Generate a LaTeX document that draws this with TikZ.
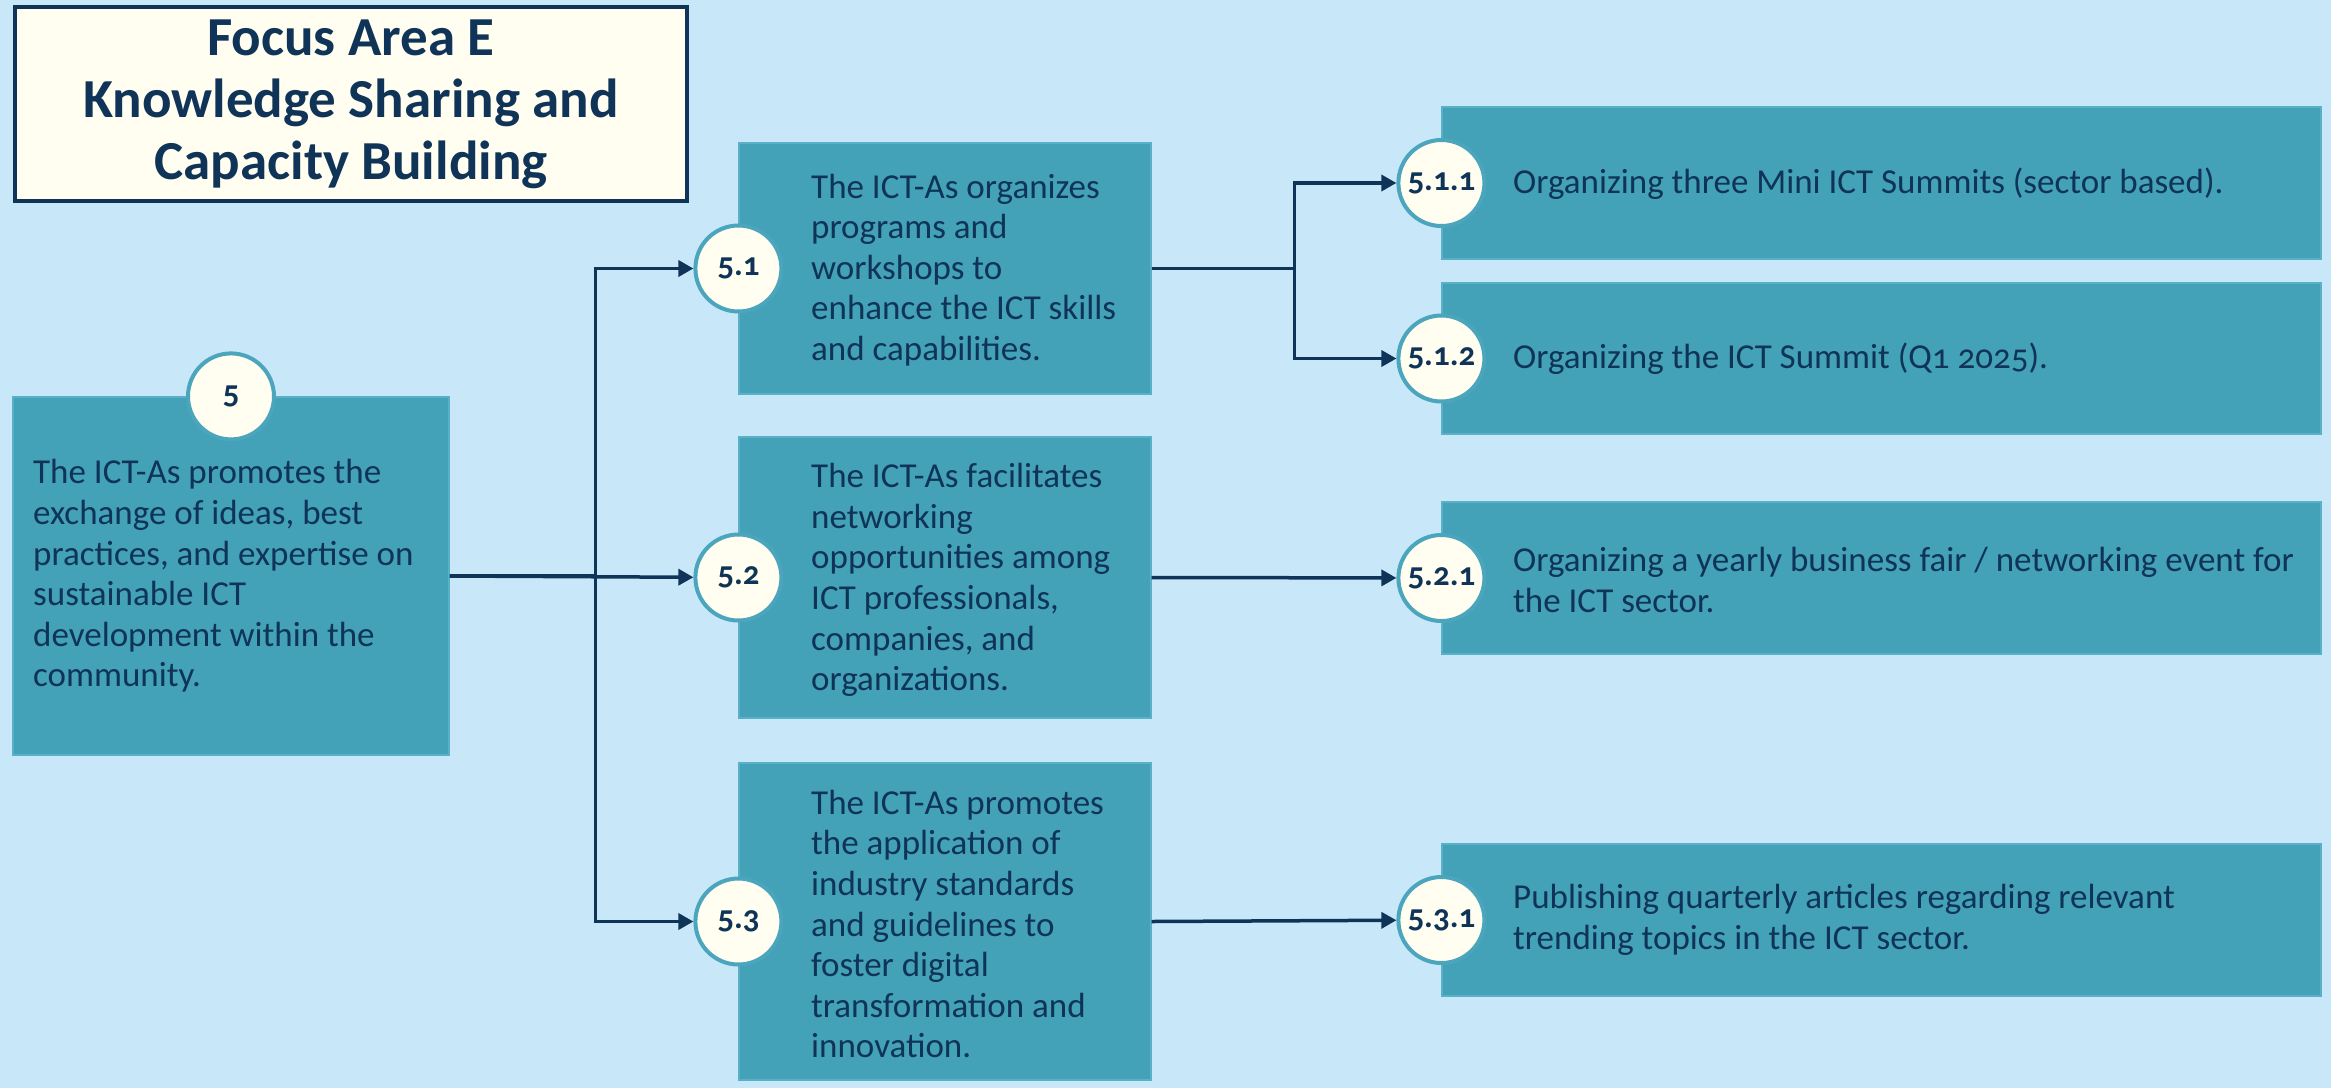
\documentclass[tikz,border=0pt]{standalone}
\usepackage{fontspec}
\setmainfont[Numbers=OldStyle]{Carlito}
\usetikzlibrary{arrows.meta}
\definecolor{bgblue}{HTML}{C8E8FA}
\definecolor{boxteal}{HTML}{43A1B8}
\definecolor{boxedge}{HTML}{5AB0C6}
\definecolor{circedge}{HTML}{4AA5BD}
\definecolor{navy}{HTML}{0F3457}
\definecolor{cream}{HTML}{FFFEF0}
\begin{document}
\begin{tikzpicture}[x=1pt,y=-1pt,
  box/.style={fill=boxteal, draw=boxedge, line width=1.2pt, inner sep=0pt},
  num/.style={circle, fill=cream, draw=circedge, line width=4pt, minimum size=86pt, inner sep=0pt,
    font=\fontsize{33}{33}\selectfont\bfseries, text=navy},
  txt/.style={font=\fontsize{35}{40.6}\selectfont, text=navy, align=left, inner sep=0pt, anchor=west},
  link/.style={draw=navy, line width=3.5pt, -{Triangle[length=15pt,width=16pt]}}
]
\fill[bgblue] (0,0) rectangle (2331,1088);
\useasboundingbox (0,0) rectangle (2331,1088);

% title
\node[draw=navy, line width=3.5pt, fill=cream, minimum width=672pt, minimum height=194pt, inner sep=0pt,
  font=\fontsize{55}{62}\selectfont\bfseries, text=navy, align=center] (title) at (351,104)
  {Focus Area E\\Knowledge Sharing and\\Capacity Building};

% boxes
\node[box, minimum width=436pt, minimum height=358pt] (b5) at (231,576) {};
\node[box, minimum width=412pt, minimum height=251pt] (b51) at (945,268.5) {};
\node[box, minimum width=412pt, minimum height=281pt] (b52) at (945,577.5) {};
\node[box, minimum width=412pt, minimum height=317pt] (b53) at (945,921.5) {};
\node[box, minimum width=879pt, minimum height=152pt] (b511) at (1881.5,183) {};
\node[box, minimum width=879pt, minimum height=151pt] (b512) at (1881.5,358.5) {};
\node[box, minimum width=879pt, minimum height=152pt] (b521) at (1881.5,578) {};
\node[box, minimum width=879pt, minimum height=152pt] (b531) at (1881.5,920) {};

% texts
\node[txt] (t5) at (33,576) {The ICT-As promotes the\\exchange of ideas, best\\practices, and expertise on\\sustainable ICT\\development within the\\community.};
\node[txt] (t51) at (811,270) {The ICT-As organizes\\programs and\\workshops to\\enhance the ICT skills\\and capabilities.};
\node[txt] (t52) at (811,580) {The ICT-As facilitates\\networking\\opportunities among\\ICT professionals,\\companies, and\\organizations.};
\node[txt] (t53) at (811,924) {The ICT-As promotes\\the application of\\industry standards\\and guidelines to\\foster digital\\transformation and\\innovation.};
\node[txt] (t511) at (1513,184) {Organizing three Mini ICT Summits (sector based).};
\node[txt] (t512) at (1513,359) {Organizing the ICT Summit (Q1 2025).};
\node[txt] (t521) at (1513,580) {Organizing a yearly business fair / networking event for\\the ICT sector.};
\node[txt] (t531) at (1513,920) {Publishing quarterly articles regarding relevant\\trending topics in the ICT sector.};

% circles
\node[num] (c5) at (b5.north) {5};
\node[num] (c51) at (b51.west) {5.1};
\node[num] (c52) at (b52.west) {5.2};
\node[num] (c53) at (b53.west) {5.3};
\node[num] (c511) at (b511.west) {5.1.1};
\node[num] (c512) at (b512.west) {5.1.2};
\node[num] (c521) at (b521.west) {5.2.1};
\node[num] (c531) at (b531.west) {5.3.1};

% connectors
\draw[link] (b5.east) -- ++(146,0) |- (c51.west);
\draw[link] (b5.east) -- (c52);
\draw[link] (b5.east) -- ++(146,0) |- (c53.west);
\draw[link] (b51.east) -- ++(143,0) |- (c511.west);
\draw[link] (b51.east) -- ++(143,0) |- (c512.west);
\draw[link] (b52.east) -- (c521);
\draw[link] (b53.east) -- (c531);
\end{tikzpicture}
\end{document}
